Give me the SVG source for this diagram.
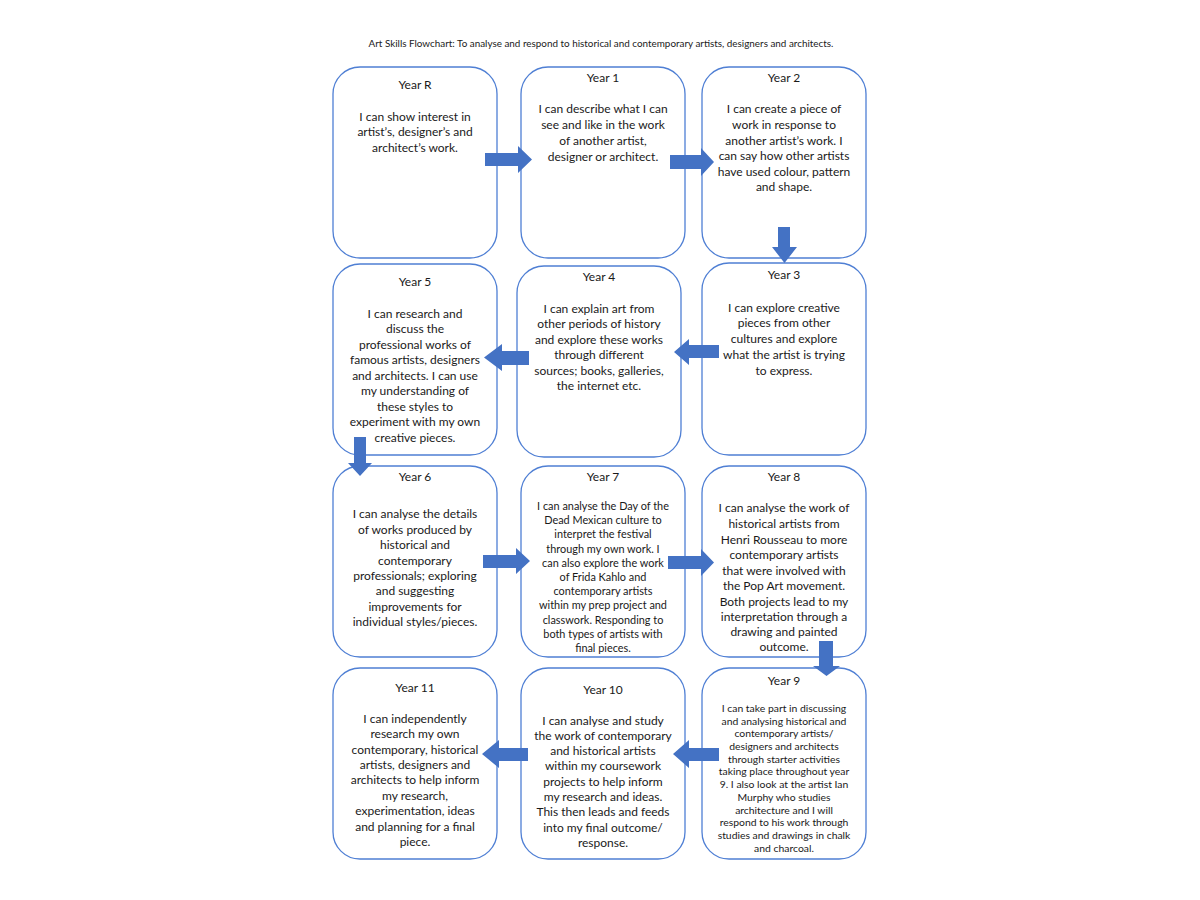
<svg xmlns="http://www.w3.org/2000/svg" width="1200" height="900" viewBox="0 0 1200 900">
<style>
.bg{fill:#ffffff}
.box{fill:#ffffff;stroke:#4f7fd4;stroke-width:1.3}
.t{font-family:Lato,"Liberation Sans",sans-serif;font-size:12px;fill:#1a1a1a;text-anchor:middle}
.s{font-size:10.4px}
.m{font-size:10.9px}
.title{font-family:Lato,"Liberation Sans",sans-serif;font-size:9.9px;fill:#1a1a1a;text-anchor:middle}
.arr{fill:#4472c4}
</style>
<rect class="bg" x="0" y="0" width="1200" height="900"/>
<text class="title" x="601" y="47">Art Skills Flowchart: To analyse and respond to historical and contemporary artists, designers and architects.</text>

<g id="yearR">
<rect class="box" x="333" y="67" width="164" height="191" rx="27"/>
<text class="t" x="415" y="89">Year R</text>
<text class="t" x="415" y="121">I can show interest in</text>
<text class="t" x="415" y="136">artist’s, designer’s and</text>
<text class="t" x="415" y="152">architect’s work.</text>
</g>
<g id="year1">
<rect class="box" x="521" y="67" width="164" height="191" rx="27"/>
<text class="t" x="603" y="82">Year 1</text>
<text class="t" x="603" y="113">I can describe what I can</text>
<text class="t" x="603" y="129">see and like in the work</text>
<text class="t" x="603" y="145">of another artist,</text>
<text class="t" x="603" y="161">designer or architect.</text>
</g>
<g id="year2">
<rect class="box" x="702" y="67" width="164" height="191" rx="27"/>
<text class="t" x="784" y="82">Year 2</text>
<text class="t" x="784" y="113">I can create a piece of</text>
<text class="t" x="784" y="129">work in response to</text>
<text class="t" x="784" y="145">another artist’s work. I</text>
<text class="t" x="784" y="160">can say how other artists</text>
<text class="t" x="784" y="176">have used colour, pattern</text>
<text class="t" x="784" y="191">and shape.</text>
</g>

<g id="year5">
<rect class="box" x="333" y="264" width="164" height="191" rx="27"/>
<text class="t" x="415" y="286">Year 5</text>
<text class="t" x="415" y="318">I can research and</text>
<text class="t" x="415" y="333">discuss the</text>
<text class="t" x="415" y="349">professional works of</text>
<text class="t" x="415" y="364">famous artists, designers</text>
<text class="t" x="415" y="380">and architects. I can use</text>
<text class="t" x="415" y="395">my understanding of</text>
<text class="t" x="415" y="411">these styles to</text>
<text class="t" x="415" y="426">experiment with my own</text>
<text class="t" x="415" y="442">creative pieces.</text>
</g>
<g id="year4">
<rect class="box" x="517" y="266" width="164" height="191" rx="27"/>
<text class="t" x="599" y="281">Year 4</text>
<text class="t" x="599" y="313">I can explain art from</text>
<text class="t" x="599" y="328">other periods of history</text>
<text class="t" x="599" y="344">and explore these works</text>
<text class="t" x="599" y="359">through different</text>
<text class="t" x="599" y="375">sources; books, galleries,</text>
<text class="t" x="599" y="390">the internet etc.</text>
</g>
<g id="year3">
<rect class="box" x="702" y="263" width="164" height="192" rx="27"/>
<text class="t" x="784" y="279">Year 3</text>
<text class="t" x="784" y="312">I can explore creative</text>
<text class="t" x="784" y="327">pieces from other</text>
<text class="t" x="784" y="343">cultures and explore</text>
<text class="t" x="784" y="359">what the artist is trying</text>
<text class="t" x="784" y="375">to express.</text>
</g>

<g id="year6">
<rect class="box" x="333" y="466" width="164" height="191" rx="27"/>
<text class="t" x="415" y="481">Year 6</text>
<text class="t" x="415" y="518">I can analyse the details</text>
<text class="t" x="415" y="534">of works produced by</text>
<text class="t" x="415" y="549">historical and</text>
<text class="t" x="415" y="565">contemporary</text>
<text class="t" x="415" y="580">professionals; exploring</text>
<text class="t" x="415" y="595">and suggesting</text>
<text class="t" x="415" y="611">improvements for</text>
<text class="t" x="415" y="626">individual styles/pieces.</text>
</g>
<g id="year7">
<rect class="box" x="521" y="466" width="164" height="191" rx="27"/>
<text class="t" x="603" y="481">Year 7</text>
<text class="t m" x="603" y="510">I can analyse the Day of the</text>
<text class="t m" x="603" y="524.2">Dead Mexican culture to</text>
<text class="t m" x="603" y="538.4">interpret the festival</text>
<text class="t m" x="603" y="552.6">through my own work. I</text>
<text class="t m" x="603" y="566.8">can also explore the work</text>
<text class="t m" x="603" y="581">of Frida Kahlo and</text>
<text class="t m" x="603" y="595.2">contemporary artists</text>
<text class="t m" x="603" y="609.4">within my prep project and</text>
<text class="t m" x="603" y="623.6">classwork. Responding to</text>
<text class="t m" x="603" y="637.8">both types of artists with</text>
<text class="t m" x="603" y="652">final pieces.</text>
</g>
<g id="year8">
<rect class="box" x="702" y="466" width="164" height="191" rx="27"/>
<text class="t" x="784" y="481">Year 8</text>
<text class="t" x="784" y="512">I can analyse the work of</text>
<text class="t" x="784" y="528">historical artists from</text>
<text class="t" x="784" y="544">Henri Rousseau to more</text>
<text class="t" x="784" y="559">contemporary artists</text>
<text class="t" x="784" y="575">that were involved with</text>
<text class="t" x="784" y="590">the Pop Art movement.</text>
<text class="t" x="784" y="606">Both projects lead to my</text>
<text class="t" x="784" y="621">interpretation through a</text>
<text class="t" x="784" y="636">drawing and painted</text>
<text class="t" x="784" y="651">outcome.</text>
</g>

<g id="year11">
<rect class="box" x="333" y="668" width="164" height="191" rx="27"/>
<text class="t" x="415" y="692">Year 11</text>
<text class="t" x="415" y="723">I can independently</text>
<text class="t" x="415" y="738">research my own</text>
<text class="t" x="415" y="754">contemporary, historical</text>
<text class="t" x="415" y="769">artists, designers and</text>
<text class="t" x="415" y="784">architects to help inform</text>
<text class="t" x="415" y="800">my research,</text>
<text class="t" x="415" y="815">experimentation, ideas</text>
<text class="t" x="415" y="831">and planning for a final</text>
<text class="t" x="415" y="846">piece.</text>
</g>
<g id="year10">
<rect class="box" x="521" y="668" width="164" height="191" rx="27"/>
<text class="t" x="603" y="694">Year 10</text>
<text class="t" x="603" y="725">I can analyse and study</text>
<text class="t" x="603" y="740">the work of contemporary</text>
<text class="t" x="603" y="755">and historical artists</text>
<text class="t" x="603" y="770">within my coursework</text>
<text class="t" x="603" y="786">projects to help inform</text>
<text class="t" x="603" y="801">my research and ideas.</text>
<text class="t" x="603" y="816">This then leads and feeds</text>
<text class="t" x="603" y="832">into my final outcome/</text>
<text class="t" x="603" y="847">response.</text>
</g>
<g id="year9">
<rect class="box" x="702" y="668" width="164" height="191" rx="27"/>
<text class="t" x="784" y="685">Year 9</text>
<text class="t s" x="784" y="712">I can take part in discussing</text>
<text class="t s" x="784" y="725">and analysing historical and</text>
<text class="t s" x="784" y="737">contemporary artists/</text>
<text class="t s" x="784" y="750">designers and architects</text>
<text class="t s" x="784" y="763">through starter activities</text>
<text class="t s" x="784" y="775">taking place throughout year</text>
<text class="t s" x="784" y="788">9. I also look at the artist Ian</text>
<text class="t s" x="784" y="801">Murphy who studies</text>
<text class="t s" x="784" y="814">architecture and I will</text>
<text class="t s" x="784" y="826">respond to his work through</text>
<text class="t s" x="784" y="839">studies and drawings in chalk</text>
<text class="t s" x="784" y="852">and charcoal.</text>
</g>

<g id="connectors">
<polygon class="arr" points="485,153 518,153 518,146 532,159.5 518,173 518,166 485,166"/>
<polygon class="arr" points="670,155 701,155 701,148 714,162 701,176 701,169 670,169"/>
<polygon class="arr" points="778,227 790,227 790,247 797,247 784.5,263 772,247 778,247"/>
<polygon class="arr" points="719,345 689,345 689,339 674,352 689,365 689,358 719,358"/>
<polygon class="arr" points="529,351 502,351 502,344 484,357.5 502,371 502,365 529,365"/>
<polygon class="arr" points="354,437 366,437 366,463 372,463 360,476 348,463 354,463"/>
<polygon class="arr" points="483,555 516,555 516,548 530,561 516,574 516,568 483,568"/>
<polygon class="arr" points="668,556 701,556 701,549 714,562.5 701,576 701,569 668,569"/>
<polygon class="arr" points="819,641 833,641 833,666 840,666 826.5,676 813,666 819,666"/>
<polygon class="arr" points="719,748 689,748 689,740 673,754 689,768 689,761 719,761"/>
<polygon class="arr" points="528,748 499,748 499,740 482,754 499,768 499,761 528,761"/>
</g>
</svg>
